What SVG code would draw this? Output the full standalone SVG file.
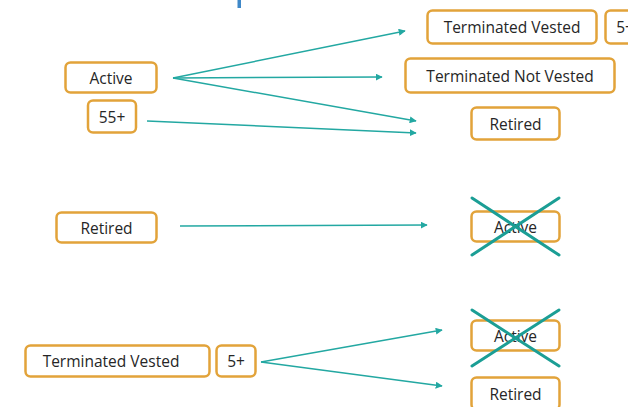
<svg xmlns="http://www.w3.org/2000/svg" width="628" height="407" viewBox="0 0 628 407">
<defs>
<style>
.box{fill:#fff;stroke:#E2A33A;stroke-width:2.5}
.t{font-family:"Open Sans","Liberation Sans",sans-serif;font-size:15.5px;fill:#262626;text-anchor:middle;dominant-baseline:central}
.c{stroke:#23A8A2;stroke-width:1.5;fill:none}
.x{stroke:#1B9E95;stroke-width:3;stroke-linecap:round}
</style>
<marker id="ah" viewBox="0 0 10 10" refX="9" refY="5" markerWidth="7" markerHeight="7" orient="auto" markerUnits="userSpaceOnUse">
<path d="M0,0 L10,5 L0,10 z" fill="#23A8A2"/>
</marker>
</defs>
<rect x="237.5" y="0" width="3.5" height="8" fill="#3F88C8"/>
<g id="connectors">
<line class="c" x1="173" y1="78" x2="405" y2="31" marker-end="url(#ah)"/>
<line class="c" x1="173" y1="78" x2="382" y2="77" marker-end="url(#ah)"/>
<line class="c" x1="173" y1="78" x2="416" y2="121" marker-end="url(#ah)"/>
<line class="c" x1="147" y1="121" x2="416" y2="133" marker-end="url(#ah)"/>
<line class="c" x1="180" y1="226" x2="427" y2="225" marker-end="url(#ah)"/>
<line class="c" x1="261" y1="362" x2="442" y2="330" marker-end="url(#ah)"/>
<line class="c" x1="261" y1="362" x2="442" y2="386" marker-end="url(#ah)"/>
</g>
<g id="active1"><rect class="box" x="65.5" y="62.5" width="91" height="30" rx="5"/><text class="t" x="111" y="77.5">Active</text></g>
<g id="age55"><rect class="box" x="88" y="100.5" width="48" height="32" rx="5"/><text class="t" x="112" y="116.5">55+</text></g>
<g id="termVested1"><rect class="box" x="427.5" y="10.5" width="169" height="33" rx="5"/><text class="t" x="512" y="27">Terminated Vested</text></g>
<g id="five1"><rect class="box" x="605.5" y="10.5" width="40" height="33" rx="5"/><text class="t" x="625" y="27">5+</text></g>
<g id="termNotVested"><rect class="box" x="405.5" y="58.5" width="209" height="34" rx="5"/><text class="t" x="510" y="75.5">Terminated Not Vested</text></g>
<g id="retired1"><rect class="box" x="471.5" y="107.5" width="88" height="32" rx="5"/><text class="t" x="515.5" y="123.5">Retired</text></g>
<g id="retired2"><rect class="box" x="56.5" y="212.5" width="100" height="30" rx="5"/><text class="t" x="106.5" y="227.5">Retired</text></g>
<g id="active2"><rect class="box" x="471.5" y="211.5" width="88" height="30" rx="5"/><text class="t" x="515.5" y="226.5">Active</text>
<line class="x" x1="472" y1="198" x2="559" y2="255"/><line class="x" x1="559" y1="198" x2="472" y2="255"/></g>
<g id="termVested2"><rect class="box" x="25.5" y="345.5" width="184" height="31" rx="5"/><text class="t" x="111" y="361">Terminated Vested</text></g>
<g id="five2"><rect class="box" x="216.5" y="345.5" width="39" height="31" rx="5"/><text class="t" x="236" y="361">5+</text></g>
<g id="active3"><rect class="box" x="471.5" y="320.5" width="88" height="30" rx="5"/><text class="t" x="515.5" y="335.5">Active</text>
<line class="x" x1="472" y1="310" x2="559" y2="366"/><line class="x" x1="559" y1="310" x2="472" y2="366"/></g>
<g id="retired3"><rect class="box" x="471.5" y="377.5" width="88" height="32" rx="5"/><text class="t" x="515.5" y="393.5">Retired</text></g>
</svg>
